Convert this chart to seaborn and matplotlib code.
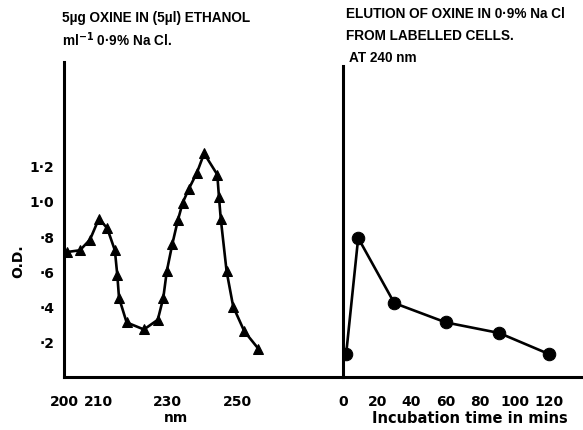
import matplotlib
matplotlib.use("Agg")
import matplotlib.pyplot as plt
import seaborn as sns
import pandas as pd

# left panel: absorption spectrum (triangles)
wavelength_nm = [200.8, 204.6, 207.5, 210.1, 212.5, 214.7, 215.4, 215.9, 218.1,
                 223.1, 227.1, 228.7, 229.7, 231.3, 232.9, 234.3, 236.1, 238.4,
                 240.5, 244.3, 244.8, 245.3, 247.0, 248.9, 252.1, 256.2]
od_spectrum = [0.71, 0.72, 0.78, 0.90, 0.845, 0.72, 0.58, 0.45, 0.31,
               0.27, 0.325, 0.45, 0.60, 0.755, 0.89, 0.99, 1.07, 1.16,
               1.27, 1.15, 1.02, 0.90, 0.60, 0.40, 0.26, 0.16]

# right panel: elution at 240 nm (circles)
time_min = [2, 9, 30, 60, 91, 120]
od_elution = [0.13, 0.79, 0.42, 0.31, 0.25, 0.13]

x_ticks_left = [200, 210, 230, 250]
x_ticks_right = [0, 20, 40, 60, 80, 100, 120]
y_ticks = [0.2, 0.4, 0.6, 0.8, 1.0, 1.2]
y_ticklabels = ['·2', '·4', '·6', '·8', '1·0', '1·2']

sns.set_style("white")
plt.rcParams['font.family'] = ['DejaVu Sans']
plt.rcParams['font.weight'] = 'bold'
plt.rcParams['text.color'] = 'black'
plt.rcParams['axes.labelcolor'] = 'black'
plt.rcParams['xtick.color'] = 'black'
plt.rcParams['ytick.color'] = 'black'

W, H = 583, 431
fig = plt.figure(figsize=(W / 100, H / 100), dpi=100)

def box(x0, x1, ytop, ybot=378):
    return [x0 / W, (H - ybot) / H, (x1 - x0) / W, (ybot - ytop) / H]

ax1 = fig.add_axes(box(64, 342.7, 63))
ax2 = fig.add_axes(box(342.7, 583, 63))

lw = 1.9
df1 = pd.DataFrame({'nm': wavelength_nm, 'od': od_spectrum})
sns.lineplot(data=df1, x='nm', y='od', ax=ax1, color='black', linewidth=lw,
             marker='^', markersize=7.5, markeredgecolor='black', sort=False)
df2 = pd.DataFrame({'t': time_min, 'od': od_elution})
sns.lineplot(data=df2, x='t', y='od', ax=ax2, color='black', linewidth=lw,
             marker='o', markersize=9, markeredgecolor='black', sort=False)

ax1.set_xlim(200, 200 + (342.7 - 64) / 3.46)
ax2.set_xlim(0, (583 - 342.7) / 1.72)
for ax in (ax1, ax2):
    ax.set_ylim(0, (378 - 63) / 176)
    for s in ('top', 'right'):
        ax.spines[s].set_visible(False)
    for s in ('left', 'bottom'):
        ax.spines[s].set_linewidth(2.2)
        ax.spines[s].set_color('black')
    ax.tick_params(axis='x', direction='out', length=8, width=2.2,
                   labelsize=10, pad=4, color='black')
    ax.tick_params(axis='y', direction='out', length=5, width=2.2,
                   labelsize=10, pad=2, color='black')
ax2.spines['left'].set_bounds(0, (378 - 67) / 176)

ax1.set_xticks(x_ticks_left)
ax1.set_xticklabels([str(v) for v in x_ticks_left], fontweight='bold')
ax1.set_yticks(y_ticks)
ax1.set_yticklabels(y_ticklabels, fontweight='bold')
ax2.set_xticks(x_ticks_right)
ax2.set_xticklabels([str(v) for v in x_ticks_right], fontweight='bold')
ax2.set_yticks([])
ax2.set_ylabel('')

ax1.set_xlabel('nm', fontsize=10, fontweight='bold')
ax1.xaxis.set_label_coords((176 - 64) / (342.7 - 64), -0.105)
ax2.set_xlabel('Incubation time in mins', fontsize=10.5, fontweight='bold')
ax2.xaxis.set_label_coords((470 - 342.7) / (583 - 342.7), -0.105)
ax1.set_ylabel('O.D.', fontsize=10, fontweight='bold')
ax1.yaxis.set_label_coords(-0.14, 0.37)

tfont = ['Liberation Sans', 'DejaVu Sans']
tfs = 9.8
fig.text(62 / W, 1 - 18 / H, '5\u00b5g OXINE IN (5\u00b5l) ETHANOL',
         fontsize=tfs, fontweight='bold', va='center', family=tfont)
fig.text(62 / W, 1 - 40 / H, 'ml$^{-1}$ 0·9% Na Cl.',
         fontsize=tfs, fontweight='bold', va='center', family=tfont)
fig.text(346 / W, 1 - 14 / H, 'ELUTION OF OXINE IN 0·9% Na Cl',
         fontsize=tfs, fontweight='bold', va='center', family=tfont)
fig.text(346 / W, 1 - 36 / H, 'FROM LABELLED CELLS.',
         fontsize=tfs, fontweight='bold', va='center', family=tfont)
fig.text(349 / W, 1 - 58 / H, 'AT 240 nm',
         fontsize=tfs, fontweight='bold', va='center', family=tfont)

fig.savefig('out.png', dpi=100)
